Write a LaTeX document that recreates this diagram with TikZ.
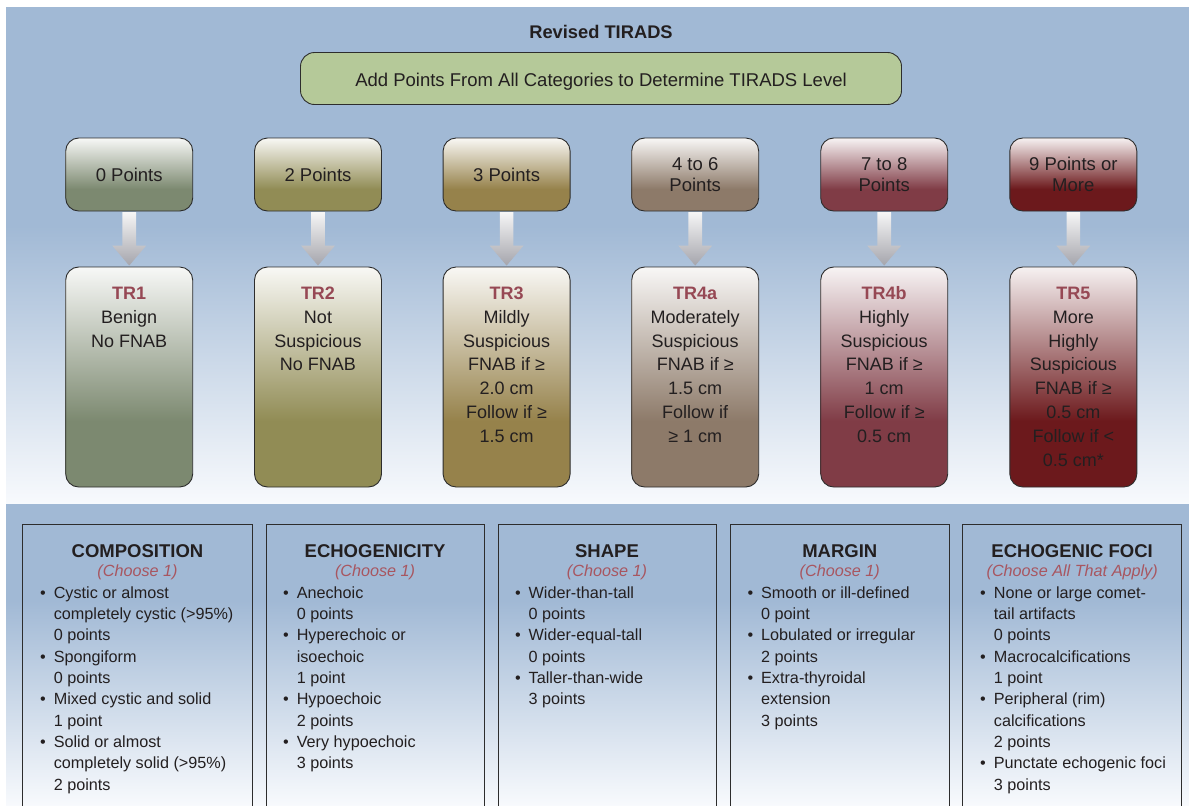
\documentclass[tikz,border=0pt]{standalone}
\usepackage{fontspec}
\setmainfont{Liberation Sans}
\usetikzlibrary{calc}
\definecolor{bgb}{RGB}{161,185,213}
\definecolor{bgw}{RGB}{248,250,253}
\definecolor{txt}{RGB}{35,31,32}
\definecolor{bdr}{RGB}{45,45,45}
\definecolor{trred}{RGB}{150,72,84}
\definecolor{chred}{RGB}{168,86,96}
\definecolor{greenbox}{RGB}{181,201,153}
\definecolor{cA}{RGB}{124,137,112}
\definecolor{cB}{RGB}{145,140,85}
\definecolor{cC}{RGB}{150,130,75}
\definecolor{cD}{RGB}{141,122,105}
\definecolor{cE}{RGB}{128,60,70}
\definecolor{cF}{RGB}{108,25,28}
\definecolor{arrL}{RGB}{246,246,246}
\definecolor{arrD}{RGB}{165,165,172}
\newcommand{\mkshade}[1]{\colorlet{#1top}{#1!6!white}\pgfdeclareverticalshading{sh#1}{100bp}{color(0bp)=(#1); color(40bp)=(#1); color(75bp)=(#1top); color(100bp)=(#1top)}}
\mkshade{cA}\mkshade{cB}\mkshade{cC}\mkshade{cD}\mkshade{cE}\mkshade{cF}
\pgfdeclareverticalshading{bgtop}{100bp}{color(0bp)=(bgw); color(25bp)=(bgw); color(53bp)=(bgb); color(100bp)=(bgb)}
\pgfdeclareverticalshading{bgbot}{100bp}{color(0bp)=(bgw); color(25bp)=(bgw); color(59bp)=(bgb); color(100bp)=(bgb)}
\newcommand{\bul}{\llap{•\hspace{8pt}}}
\newcommand{\trl}[1]{\rule{0pt}{13.2pt}{\color{trred}\bfseries #1}}
\begin{document}
\begin{tikzpicture}[x=1pt,y=-1pt,
  ptbox/.style={draw=bdr, line width=0.9pt, rounded corners=13pt, minimum width=127pt, minimum height=73pt, align=center, font=\fontsize{18.5}{21}\selectfont, text=txt},
  trbox/.style={draw=bdr, line width=0.9pt, rounded corners=13pt, minimum width=127pt, minimum height=220pt},
  trtext/.style={anchor=north, align=center, inner sep=0pt, font=\fontsize{18}{23.85}\selectfont, text=txt},
  arr/.style={top color=arrL, bottom color=arrD},
  catbox/.style={draw=bdr, line width=1pt, anchor=north west, inner sep=0pt, minimum height=300pt},
  cathead/.style={anchor=base, inner sep=0pt, font=\bfseries\fontsize{18.5}{22}\selectfont, text=txt},
  catchoose/.style={anchor=base, inner sep=0pt, font=\itshape\fontsize{16.2}{20}\selectfont, text=chred},
  catlist/.style={anchor=north west, align=left, inner sep=0pt, font=\fontsize{16.2}{21.35}\selectfont, text=txt}
]
\useasboundingbox (0,0) rectangle (1189,806);
\clip (0,0) rectangle (1189,806);
\fill[white] (0,0) rectangle (1189,806);
\shade[shading=bgtop] (6,7) rectangle (1189,504);
\shade[shading=bgbot] (6,504) rectangle (1189,806);

% title and instruction
\node[anchor=base, inner sep=0pt, font=\bfseries\fontsize{18.3}{22}\selectfont, text=txt] (title) at (601,38.6) {Revised TIRADS};
\node[draw=bdr, line width=0.9pt, fill=greenbox, rounded corners=14pt, minimum width=601pt, minimum height=52pt, text height=16.2pt, text depth=0pt, font=\fontsize{18.5}{22}\selectfont, text=txt] (add) at (601,78.5) {Add Points From All Categories to Determine TIRADS Level};

% points boxes
\node[ptbox, shading=shcA] (p1) at (129.2,174.5) {0 Points};
\node[ptbox, shading=shcB] (p2) at (318,174.5) {2 Points};
\node[ptbox, shading=shcC] (p3) at (506.6,174.5) {3 Points};
\node[ptbox, shading=shcD] (p4) at (695.2,174.5) {4 to 6\\Points};
\node[ptbox, shading=shcE] (p5) at (884.2,174.5) {7 to 8\\Points};
\node[ptbox, shading=shcF] (p6) at (1073.3,174.5) {9 Points or\\More};

% TR boxes
\node[trbox, shading=shcA] (t1) at (129.2,377) {};
\node[trbox, shading=shcB] (t2) at (318,377) {};
\node[trbox, shading=shcC] (t3) at (506.6,377) {};
\node[trbox, shading=shcD] (t4) at (695.2,377) {};
\node[trbox, shading=shcE] (t5) at (884.2,377) {};
\node[trbox, shading=shcF] (t6) at (1073.3,377) {};

\node[trtext] (t1x) at ($(t1.north)+(0,19.4)$) {\trl{TR1}\\Benign\\No FNAB};
\node[trtext] (t2x) at ($(t2.north)+(0,19.4)$) {\trl{TR2}\\Not\\Suspicious\\No FNAB};
\node[trtext] (t3x) at ($(t3.north)+(0,19.4)$) {\trl{TR3}\\Mildly\\Suspicious\\FNAB if ≥\\2.0 cm\\Follow if ≥\\1.5 cm};
\node[trtext] (t4x) at ($(t4.north)+(0,19.4)$) {\trl{TR4a}\\Moderately\\Suspicious\\FNAB if ≥\\1.5 cm\\Follow if\\≥ 1 cm};
\node[trtext] (t5x) at ($(t5.north)+(0,19.4)$) {\trl{TR4b}\\Highly\\Suspicious\\FNAB if ≥\\1 cm\\Follow if ≥\\0.5 cm};
\node[trtext] (t6x) at ($(t6.north)+(0,19.4)$) {\trl{TR5}\\More\\Highly\\Suspicious\\FNAB if ≥\\0.5 cm\\Follow if <\\0.5 cm*};

% arrows
\foreach \a/\b in {p1/t1,p2/t2,p3/t3,p4/t4,p5/t5,p6/t6}{
  \shade[arr] ($(\a.south)+(-6.8,0.6)$) -- ($(\a.south)+(6.8,0.6)$) -- ($(\b.north)+(6.8,-21)$) -- ($(\b.north)+(17,-21)$) -- ($(\b.north)+(0,-1)$) -- ($(\b.north)+(-17,-21)$) -- ($(\b.north)+(-6.8,-21)$) -- cycle;
}

% category boxes
\node[catbox, minimum width=229.6pt] (c1) at (22.2,524.3) {};
\node[catbox, minimum width=218pt] (c2) at (265.6,524.3) {};
\node[catbox, minimum width=218pt] (c3) at (497.5,524.3) {};
\node[catbox, minimum width=218.6pt] (c4) at (730,524.3) {};
\node[catbox, minimum width=219.3pt] (c5) at (962,524.3) {};

\node[cathead] (c1h) at ($(c1.north)+(0,33)$) {COMPOSITION};
\node[cathead] (c2h) at ($(c2.north)+(0,33)$) {ECHOGENICITY};
\node[cathead] (c3h) at ($(c3.north)+(0,33)$) {SHAPE};
\node[cathead] (c4h) at ($(c4.north)+(0,33)$) {MARGIN};
\node[cathead] (c5h) at ($(c5.north)+(0,33)$) {ECHOGENIC FOCI};

\node[catchoose] (c1c) at ($(c1.north)+(0,52.2)$) {(Choose 1)};
\node[catchoose] (c2c) at ($(c2.north)+(0,52.2)$) {(Choose 1)};
\node[catchoose] (c3c) at ($(c3.north)+(0,52.2)$) {(Choose 1)};
\node[catchoose] (c4c) at ($(c4.north)+(0,52.2)$) {(Choose 1)};
\node[catchoose] (c5c) at ($(c5.north)+(0,52.2)$) {(Choose All That Apply)};

\node[catlist] (c1l) at ($(c1.north west)+(31.4,61.8)$) {\bul Cystic or almost\\completely cystic (>95\%)\\0 points\\\bul Spongiform\\0 points\\\bul Mixed cystic and solid\\1 point\\\bul Solid or almost\\completely solid (>95\%)\\2 points};
\node[catlist] (c2l) at ($(c2.north west)+(31,61.8)$) {\bul Anechoic\\0 points\\\bul Hyperechoic or\\isoechoic\\1 point\\\bul Hypoechoic\\2 points\\\bul Very hypoechoic\\3 points};
\node[catlist] (c3l) at ($(c3.north west)+(31,61.8)$) {\bul Wider-than-tall\\0 points\\\bul Wider-equal-tall\\0 points\\\bul Taller-than-wide\\3 points};
\node[catlist] (c4l) at ($(c4.north west)+(31,61.8)$) {\bul Smooth or ill-defined\\0 point\\\bul Lobulated or irregular\\2 points\\\bul Extra-thyroidal\\extension\\3 points};
\node[catlist] (c5l) at ($(c5.north west)+(31.7,61.8)$) {\bul None or large comet-\\tail artifacts\\0 points\\\bul Macrocalcifications\\1 point\\\bul Peripheral (rim)\\calcifications\\2 points\\\bul Punctate echogenic foci\\3 points};
\end{tikzpicture}
\end{document}
